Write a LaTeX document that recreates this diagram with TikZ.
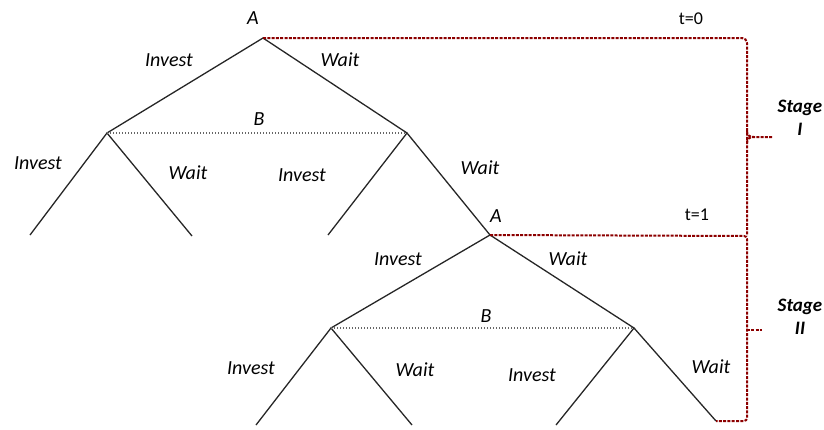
\documentclass[tikz,border=0pt]{standalone}
\usepackage{fontspec}
\setmainfont{Carlito}
\begin{document}
\begin{tikzpicture}[x=1pt,y=-1pt,
  branch/.style={draw=black!85, line width=1.3pt},
  infoset/.style={draw=black!60, line width=1.2pt, dash pattern=on 1.2pt off 1.8pt},
  bracket/.style={draw=red!55!black, line width=2pt, dash pattern=on 3pt off 1.3pt},
  lbl/.style={font=\fontsize{20}{22}\selectfont\itshape, inner sep=0pt},
  tlbl/.style={font=\fontsize{18}{20}\selectfont, inner sep=0pt},
  stg/.style={font=\fontsize{19}{23}\selectfont\bfseries\itshape, align=center, inner sep=0pt}]
\useasboundingbox (0,0) rectangle (824,429);
% tree nodes
\coordinate (A1) at (263,38);
\coordinate (B1l) at (107,133);
\coordinate (B1r) at (407,133);
\coordinate (L1) at (30,235);
\coordinate (L2) at (192,236);
\coordinate (L3) at (328,235);
\coordinate (A2) at (490,235);
\coordinate (B2l) at (331,328);
\coordinate (B2r) at (634,328);
\coordinate (M1) at (256,425);
\coordinate (M2) at (412,425);
\coordinate (M3) at (556,425);
\coordinate (M4) at (716,421);
% bracket coordinates
\coordinate (T0) at (747,38);
\coordinate (T1) at (747,236);
\coordinate (T2) at (747,421);
\coordinate (K1) at (772,137);
\coordinate (K2) at (762,330);
% branches
\draw[branch] (B1l) -- (A1) -- (B1r);
\draw[branch] (L1) -- (B1l) -- (L2);
\draw[branch] (L3) -- (B1r) -- (A2);
\draw[branch] (B2l) -- (A2) -- (B2r);
\draw[branch] (M1) -- (B2l) -- (M2);
\draw[branch] (M3) -- (B2r) -- (M4);
% information sets
\draw[infoset] (B1l) -- (B1r);
\draw[infoset] (B2l) -- (B2r);
% brackets
\draw[bracket, rounded corners=5pt] (A1) -- (T0) -- (T1);
\draw[bracket, rounded corners=3pt] (A2) -- (T1) -- (T2) -- (M4);
\draw[bracket] (747,131) .. controls (747,135) and (749,137) .. (754,137) -- (K1);
\draw[bracket] (747,143) .. controls (747,139) and (749,137) .. (754,137);
\draw[bracket] (747,330) -- (K2);
% labels
\node[lbl] (la1) at (253,18) {A};
\node[tlbl] (t0) at (691,19) {t=0};
\node[lbl] (i1) at (169,60) {Invest};
\node[lbl] (w1) at (340,60) {Wait};
\node[lbl] (lb1) at (259,119) {B};
\node[lbl] (i2) at (38,163) {Invest};
\node[lbl] (w2) at (188,173) {Wait};
\node[lbl] (i3) at (302,175) {Invest};
\node[lbl] (w3) at (480,168) {Wait};
\node[lbl] (la2) at (496,216) {A};
\node[tlbl] (t1) at (697,215) {t=1};
\node[lbl] (i4) at (398,259) {Invest};
\node[lbl] (w4) at (568,259) {Wait};
\node[lbl] (lb2) at (486,316) {B};
\node[lbl] (i5) at (251,368) {Invest};
\node[lbl] (w5) at (415,370) {Wait};
\node[lbl] (i6) at (532,375) {Invest};
\node[lbl] (w6) at (711,367) {Wait};
\node[stg] (s1) at (800,118) {Stage\\I};
\node[stg] (s2) at (800,317) {Stage\\II};
\end{tikzpicture}
\end{document}
